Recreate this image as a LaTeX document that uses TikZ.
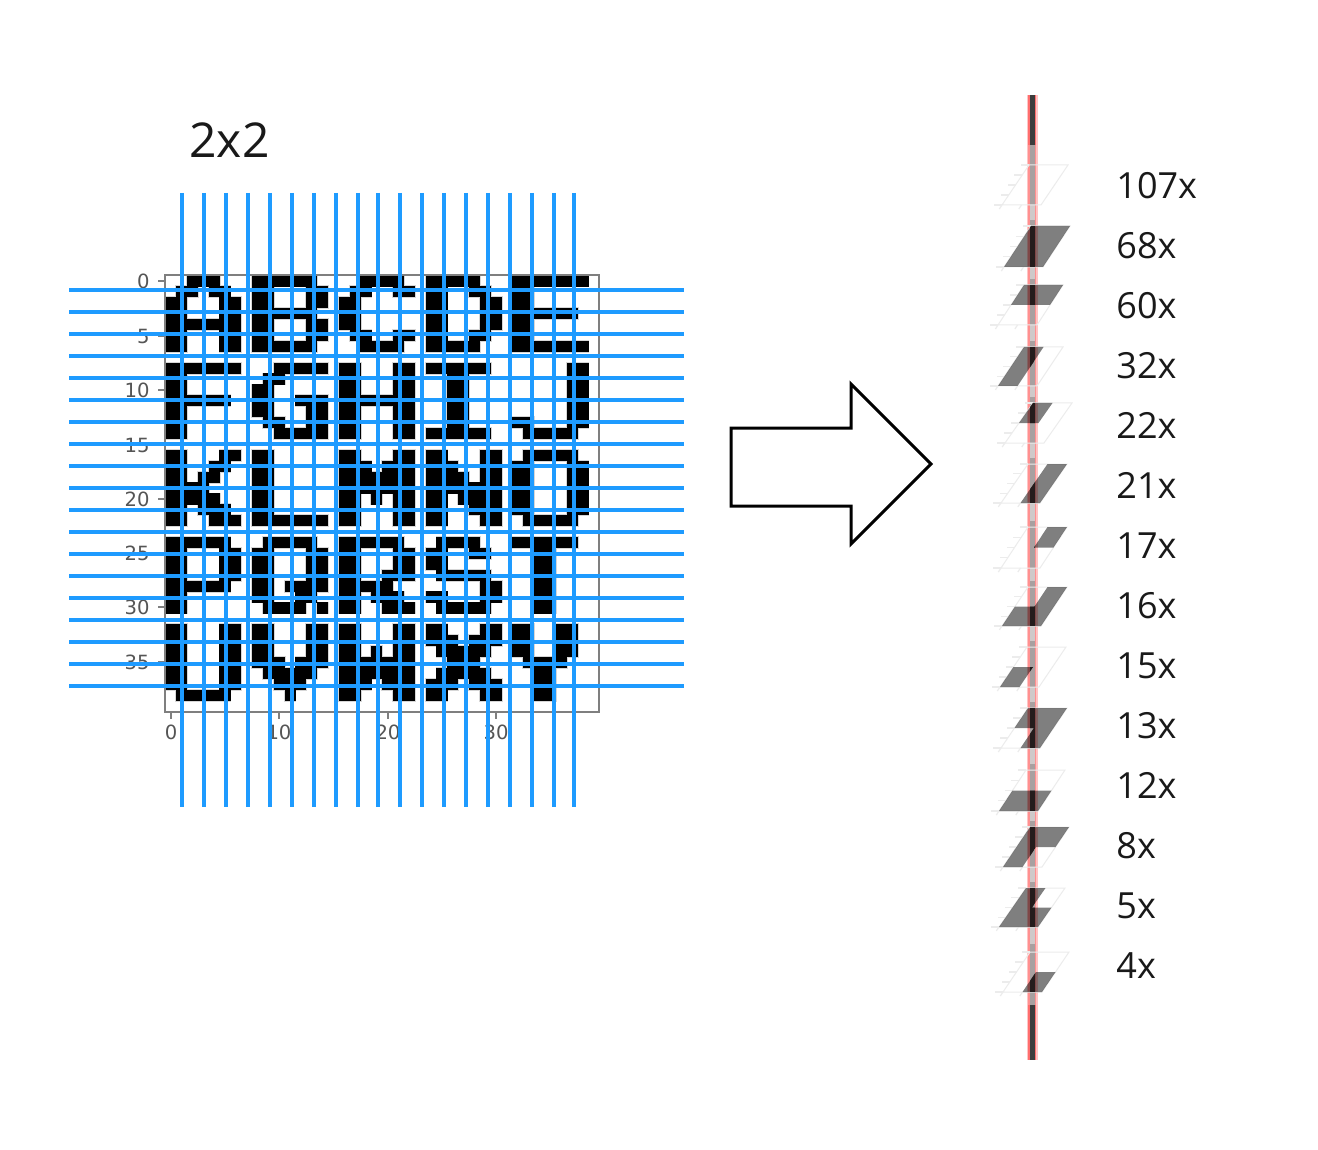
\documentclass[tikz,border=0pt]{standalone}
\usepackage{fontspec}
\setmainfont{Open Sans}
\newfontfamily\tickfont{DejaVu Sans}
\definecolor{gridblue}{HTML}{1E9BFF}
\definecolor{framegray}{HTML}{7F7F7F}
\definecolor{ticktext}{HTML}{555555}
\definecolor{planeline}{HTML}{ECECEC}
\definecolor{halopink}{HTML}{FFC4C4}
\definecolor{edgered}{HTML}{FF6E6E}
\definecolor{coremid}{HTML}{A8A0A0}
\definecolor{corelight}{HTML}{CFC9C9}
\definecolor{coretop}{HTML}{3C3C3C}
\definecolor{coredark}{HTML}{241C1C}
\newcount\bmc
\def\bmwalk#1{\ifx#1;\else\if#1X\bmcell\fi\advance\bmc by 1 \expandafter\bmwalk\fi}
\def\bmrow#1#2{\bmc=0 \def\rr{#1}\bmwalk#2;}
\def\allrows{%
\bmrow{0}{..XXX... XXXXXX.. ..XXXX.. XXXXX... XXXXXXX.}%
\bmrow{1}{.XX.XX.. XX...XX. .XX..XX. XX..XX.. XX......}%
\bmrow{2}{XX...XX. XX...XX. XX...... XX...XX. XX......}%
\bmrow{3}{XX...XX. XXXXXX.. XX...... XX...XX. XXXXXX..}%
\bmrow{4}{XXXXXXX. XX...XX. XX...... XX...XX. XX......}%
\bmrow{5}{XX...XX. XX...XX. .XX..XX. XX..XX.. XX......}%
\bmrow{6}{XX...XX. XXXXXX.. ..XXXX.. XXXXX... XXXXXXX.}%
\bmrow{8}{XXXXXXX. ..XXXXX. XX...XX. XXXXXX.. .....XX.}%
\bmrow{9}{XX...... .XX..... XX...XX. ..XX.... .....XX.}%
\bmrow{10}{XX...... XX...... XX...XX. ..XX.... .....XX.}%
\bmrow{11}{XXXXXX.. XX..XXX. XXXXXXX. ..XX.... .....XX.}%
\bmrow{12}{XX...... XX...XX. XX...XX. ..XX.... .....XX.}%
\bmrow{13}{XX...... .XX..XX. XX...XX. ..XX.... XX...XX.}%
\bmrow{14}{XX...... ..XXXXX. XX...XX. XXXXXX.. .XXXXX..}%
\bmrow{16}{XX...XX. XX...... XX...XX. XX...XX. .XXXXX..}%
\bmrow{17}{XX..XX.. XX...... XXX.XXX. XXX..XX. XX...XX.}%
\bmrow{18}{XX.XX... XX...... XXXXXXX. XXXX.XX. XX...XX.}%
\bmrow{19}{XXXX.... XX...... XXXXXXX. XXXXXXX. XX...XX.}%
\bmrow{20}{XXXXX... XX...... XX.X.XX. XX.XXXX. XX...XX.}%
\bmrow{21}{XX.XXX.. XX...... XX...XX. XX..XXX. XX...XX.}%
\bmrow{22}{XX..XXX. XXXXXXX. XX...XX. XX...XX. .XXXXX..}%
\bmrow{24}{XXXXXX.. .XXXXX.. XXXXXX.. .XXXX... XXXXXX..}%
\bmrow{25}{XX...XX. XX...XX. XX...XX. XX..XX.. ..XX....}%
\bmrow{26}{XX...XX. XX...XX. XX...XX. XX...... ..XX....}%
\bmrow{27}{XX...XX. XX...XX. XX..XXX. .XXXXX.. ..XX....}%
\bmrow{28}{XXXXXX.. XX.XXXX. XXXXX... .....XX. ..XX....}%
\bmrow{29}{XX...... XX..XX.. XX.XXX.. XX...XX. ..XX....}%
\bmrow{30}{XX...... .XXXX.X. XX..XXX. .XXXXX.. ..XX....}%
\bmrow{32}{XX...XX. XX...XX. XX...XX. XX...XX. XX..XX..}%
\bmrow{33}{XX...XX. XX...XX. XX...XX. XXX.XXX. XX..XX..}%
\bmrow{34}{XX...XX. XX...XX. XX.X.XX. .XXXXX.. XX..XX..}%
\bmrow{35}{XX...XX. XXX.XXX. XXXXXXX. ..XXX... .XXXX...}%
\bmrow{36}{XX...XX. .XXXXX.. XXXXXXX. .XXXXX.. ..XX....}%
\bmrow{37}{XX...XX. ..XXX... XXX.XXX. XXX.XXX. ..XX....}%
\bmrow{38}{.XXXXX.. ...X.... XX...XX. XX...XX. ..XX....}%
}
\tikzset{
  bluegrid/.style={draw=gridblue,line width=1.9pt},
  axesframe/.style={draw=framegray,line width=1pt},
  tickmark/.style={draw=framegray,line width=.6pt},
  ticklabel/.style={text=ticktext,font=\tickfont\fontsize{9.8}{11}\selectfont,inner sep=0pt},
  countlabel/.style={anchor=base west,inner sep=0pt,font=\fontsize{18}{22}\selectfont,text=black!90},
  bigarrow/.style={draw=black,fill=white,line width=1.5pt,miter limit=10},
  planeframe/.style={draw=planeline,line width=.5pt},
  planetick/.style={draw=planeline,line width=.6pt},
  cellfill/.style={fill=black,fill opacity=.5},
}
% x0, shift, ytop, ybot, region path in the plane's unit square
\newcommand\planeU[5]{%
  \pgfmathsetmacro\pS{#2*.5}\pgfmathsetmacro\pH{(#4-#3)*.5}%
  \begin{scope}[shift={(#1,#4)},x={(19.5pt,0pt)},y={(\pS pt,\pH pt)}]
    \draw[planeframe] (0,0) -- (1,0) -- (1,1) -- (0,1) -- cycle;
    \foreach \v in {0,.25,.5,.75,1} \draw[planetick] (0,\v) -- (-.2,\v);
    \foreach \u in {0,.5} \draw[planetick] (\u,0) -- (\u,-.1);
    \fill[cellfill] #5;
    \begin{scope}
      \clip #5;
      \begin{scope}[reset cm,x=.5pt,y=-.5pt]
        \fill[coredark] (1029.5,#3) rectangle (1034.5,#4);
      \end{scope}
    \end{scope}
  \end{scope}%
}
\begin{document}
\begin{tikzpicture}[x=.5pt,y=-.5pt]
\useasboundingbox[fill=white] (0,0) rectangle (1318,1150);
% bitmap
\begin{scope}[shift={(165.3,275.5)},x=5.425pt,y=-5.45pt]
  \def\bmcell{\fill[black!16] (\the\bmc-.09,\rr-.09) rectangle +(1.18,1.18);}
  \allrows
  \def\bmcell{\fill[black] (\the\bmc-.01,\rr-.01) rectangle +(1.02,1.02);}
  \allrows
\end{scope}
% axes
\draw[axesframe] (165.3,275.5) rectangle (599.3,711.5);
\foreach \t/\yy in {0/281,5/336,10/390,15/445,20/499,25/553,30/607,35/662}{
  \draw[tickmark] (165.3,\yy) -- (157.5,\yy);
  \node[ticklabel,anchor=east] (yl\t) at (150,\yy) {\t};
}
\foreach \t/\xx in {0/171,10/279,20/388,30/496}{
  \draw[tickmark] (\xx,711.5) -- (\xx,719);
  \node[ticklabel] (xl\t) at (\xx,732) {\t};
}
% blue grid
\foreach \xx in {182,204,226,248,270,292,314,336,358,378,400,422,444,466,488,510,532,554,574}
  \draw[bluegrid] (\xx,193) -- (\xx,807);
\foreach \yy in {290,312,334,356,378,400,422,444,466,488,510,532,554,576,598,620,642,664,686}
  \draw[bluegrid] (69,\yy) -- (684,\yy);
\node[anchor=base west,inner sep=0pt,font=\fontsize{24}{28}\selectfont,text=black!90] (title) at (189,158) {2x2};
% arrow
\draw[bigarrow] (731,428) -- (851,428) -- (851,384) -- (931,464) -- (851,544) -- (851,506) -- (731,506) -- cycle;
% rod
\fill[halopink] (1026.5,95) rectangle (1037.5,1060);
\fill[edgered] (1028,95) rectangle (1036,145);
\fill[edgered] (1028,1005) rectangle (1036,1060);
\fill[edgered!60!halopink] (1028,145) rectangle (1036,1005);
\fill[coretop] (1029.5,95) rectangle (1034.5,145);
\fill[coretop] (1029.5,1005) rectangle (1034.5,1060);
\fill[corelight] (1029.5,145) rectangle (1034.5,1005);
\fill[coremid] (1029.5,145) rectangle (1034.5,205);
\foreach \a/\b in {220/267,279/325,341/386,397/443,458/503,521/568,581/626,641/687,702/748,764/811,821/867,882/927,944/1005}
  \fill[coremid] (1029.5,\a) rectangle (1034.5,\b);
% planes
\planeU{1002}{27}{165}{205}{(0,0) -- (0,0)}
\planeU{1004}{27}{226}{267}{(0,0) -- (1,0) -- (1,1) -- (0,1) -- cycle}
\planeU{998}{26}{285}{325}{(0,.5) -- (1,.5) -- (1,1) -- (0,1) -- cycle}
\planeU{998}{26}{347}{386}{(0,0) -- (.5,0) -- (.5,1) -- (0,1) -- cycle}
\planeU{1005}{28}{403}{443}{(0,.5) -- (.5,.5) -- (.5,1) -- (0,1) -- cycle}
\planeU{1001}{27}{464}{503}{(.5,0) -- (1,0) -- (1,1) -- (.5,1) -- cycle}
\planeU{1001}{27}{527}{568}{(.5,.5) -- (1,.5) -- (1,1) -- (.5,1) -- cycle}
\planeU{1002}{26}{587}{626}{(0,0) -- (1,0) -- (1,.5) -- (1,1) -- (.5,1) -- (.5,.5) -- (0,.5) -- cycle}
\planeU{1000}{27}{647}{687}{(0,0) -- (.5,0) -- (.5,.5) -- (0,.5) -- cycle}
\planeU{1001}{27}{708}{748}{(.5,0) -- (1,0) -- (1,1) -- (0,1) -- (0,.5) -- (.5,.5) -- cycle}
\planeU{999}{27}{770}{811}{(0,0) -- (1,0) -- (1,.5) -- (0,.5) -- cycle}
\planeU{1003}{27}{827}{867}{(0,0) -- (.5,0) -- (.5,.5) -- (1,.5) -- (1,1) -- (0,1) -- cycle}
\planeU{999}{27}{888}{927}{(0,0) -- (1,0) -- (1,.5) -- (.5,.5) -- (.5,1) -- (0,1) -- cycle}
\planeU{1003}{27}{952}{992}{(.5,0) -- (1,0) -- (1,.5) -- (.5,.5) -- cycle}
% labels
\foreach \lab/\yy [count=\i] in {107x/198.5,68x/258.5,60x/318.5,32x/378.5,22x/438.5,21x/498.5,17x/558.5,16x/618.5,15x/678.5,13x/738.5,12x/798.5,8x/858.5,5x/918.5,4x/978.5}
  \node[countlabel] (count\i) at (1116,\yy) {\lab};
\end{tikzpicture}
\end{document}
